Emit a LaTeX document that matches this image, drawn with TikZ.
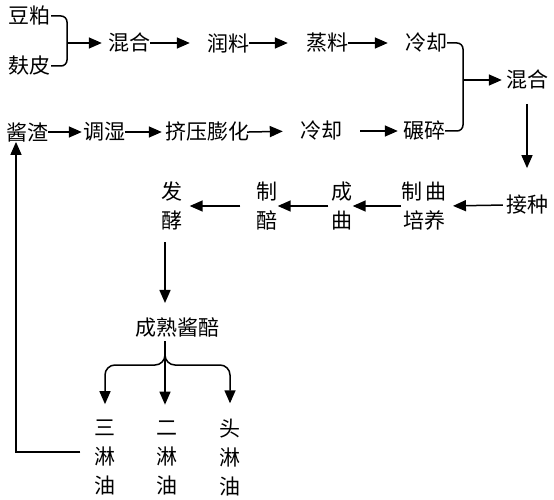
\documentclass[tikz,border=0pt]{standalone}
\usepackage{fontspec}
\setmainfont{Noto Sans CJK SC}
\usetikzlibrary{arrows.meta,calc}
\tikzset{
  lbl/.style={inner sep=0pt, font=\fontsize{21pt}{29pt}\selectfont, align=center},
  arr/.style={line width=1.5pt, -{Triangle[length=13pt,width=11pt]}},
  ln/.style={line width=1.5pt},
}
\begin{document}
\begin{tikzpicture}[x=1pt,y=-1pt]
\useasboundingbox[fill=white] (0,0) rectangle (554,500);
% nodes
\node[lbl] (dp) at (30,16) {豆粕};
\node[lbl] (fp) at (30,66) {麸皮};
\node[lbl] (hh1) at (129,43) {混合};
\node[lbl] (rl) at (228,43) {润料};
\node[lbl] (zl) at (327,43) {蒸料};
\node[lbl] (lq1) at (426,43) {冷却};
\node[lbl] (hh2) at (527,80) {混合};
\node[lbl] (jz) at (27,132) {酱渣};
\node[lbl] (ts) at (104,132) {调湿};
\node[lbl] (jy) at (207,132) {挤压膨化};
\node[lbl] (lq2) at (321,131) {冷却};
\node[lbl] (ns) at (424,131) {碾碎};
\node[lbl] (jzh) at (527,205) {接种};
\node[lbl] (zq) at (424,206) {制\,曲\\培养};
\node[lbl] (cq) at (342,206) {成\\曲};
\node[lbl] (zp) at (267,206) {制\\醅};
\node[lbl] (fj) at (172,206) {发\\酵};
\node[lbl] (cs) at (177,328) {成熟酱醅};
\node[lbl] (s3) at (105,458) {三\\淋\\油};
\node[lbl] (s2) at (167,458) {二\\淋\\油};
\node[lbl] (s1) at (230,458) {头\\淋\\油};
% helper coordinates
\coordinate (b1) at (67,43);
\coordinate (b2) at (463,80);
\coordinate (fk) at (165,365);
\coordinate (fb) at (16,452);
% bracket 1
\draw[ln, rounded corners=6pt] (dp.east) -| (b1) |- (fp.east);
\draw[arr, shorten >=6pt] (b1) -- (hh1.west);
% row 1
\draw[arr, shorten >=17pt] (hh1.east) -- (rl.west);
\draw[arr, shorten >=18pt] (rl.east) -- (zl.west);
\draw[arr, shorten >=17pt] (zl.east) -- (lq1.west);
% bracket 2
\draw[ln, rounded corners=6pt] (lq1.east) -| (b2) |- (ns.east);
\draw[arr, shorten >=4pt] (b2) -- (hh2.west);
% down to 接种
\draw[arr, shorten <=14pt, shorten >=27pt] (hh2.south) -- (jzh.north);
% row 2
\draw[arr, shorten >=1pt] (jz.east) -- (ts.west);
\draw[arr, shorten >=3pt] (ts.east) -- (jy.west);
\draw[arr, shorten <=-2pt, shorten >=17pt] (jy.east) -- (lq2.west);
\draw[arr, shorten <=18pt, shorten >=5pt] (lq2.east) -- (ns.west);
% row 3
\draw[arr, shorten <=3pt, shorten >=6pt] (jzh.west) -- (zq.east);
\draw[arr] (zq.west) -- (cq.east);
\draw[arr, shorten <=3pt] (cq.west) -- (zp.east);
\draw[arr, shorten <=16pt, shorten >=7pt] (zp.west) -- (fj.east);
% down to 成熟酱醅
\draw[arr, shorten <=12pt, shorten >=15pt] (fj.south -| fk) -- (cs.north -| fk);
% fork
\draw[arr, rounded corners=10pt, shorten >=16pt] ($(cs.south -| fk)+(0,3)$) |- (s3 |- fk) -- (s3.north);
\draw[arr, rounded corners=10pt, shorten >=16pt] ($(cs.south -| fk)+(0,3)$) |- (s1 |- fk) -- (s1.north);
\draw[arr, shorten <=3pt, shorten >=16pt] (cs.south -| fk) -- (s2.north -| fk);
% feedback
\draw[arr] ($(s3.west)+(-14,-6)$) -- (fb) -- (fb |- jz.south);
\end{tikzpicture}
\end{document}
